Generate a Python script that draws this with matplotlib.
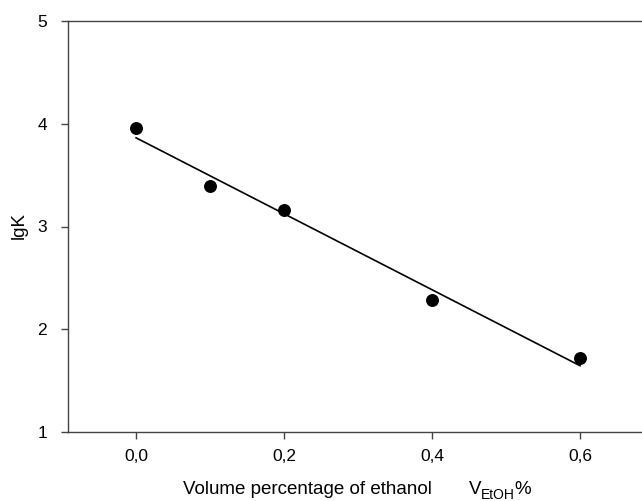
import numpy as np
import matplotlib
matplotlib.use("Agg")
import matplotlib.pyplot as plt

plt.rcParams['font.family'] = ['Liberation Sans', 'DejaVu Sans']
plt.rcParams['mathtext.fontset'] = 'custom'
plt.rcParams['mathtext.rm'] = 'Liberation Sans'

x_vals = [0.0, 0.1, 0.2, 0.4, 0.6]
lgk_vals = [3.96, 3.39, 3.16, 2.28, 1.72]
x_ticks = [0.0, 0.2, 0.4, 0.6]
x_ticklabels = ["0,0", "0,2", "0,4", "0,6"]
y_ticks = [1, 2, 3, 4, 5]

fig = plt.figure(figsize=(6.42, 5.01), dpi=100)
ax = fig.add_axes([68/642, 69/501, 586/642, 411/501])

slope, intercept = np.polyfit(x_vals, lgk_vals, 1)
xf = np.array([min(x_vals), max(x_vals)])
ax.plot(xf, slope*xf + intercept, color='black', lw=1.2, zorder=2)
ax.plot(x_vals, lgk_vals, 'o', color='black', ms=8.3, zorder=3)

ax.set_xlim(-0.092, 0.7)
ax.set_ylim(1, 5)
ax.set_xticks(x_ticks)
ax.set_xticklabels(x_ticklabels)
ax.set_yticks(y_ticks)
for s in ax.spines.values():
    s.set_color('#444444')
    s.set_linewidth(1.0)
ax.tick_params(direction='out', length=5, width=1, color='#444444', labelsize=12.5, pad=7)
ax.tick_params(axis='y', pad=10)

fig.text(19/642, 1 - 226/501, 'lgK', rotation=90, ha='center', va='center', fontsize=13.5)
fig.text(183/642, 1 - 489/501, 'Volume percentage of ethanol',
         ha='left', va='center', fontsize=13.5)
fig.text(469/642, 1 - 489/501, 'V', ha='left', va='center', fontsize=13.5)
fig.text(481/642, 1 - 495/501, 'EtOH', ha='left', va='center', fontsize=10)
fig.text(514/642, 1 - 489/501, '%', ha='left', va='center', fontsize=13.5)

fig.savefig('out.png', dpi=100)
